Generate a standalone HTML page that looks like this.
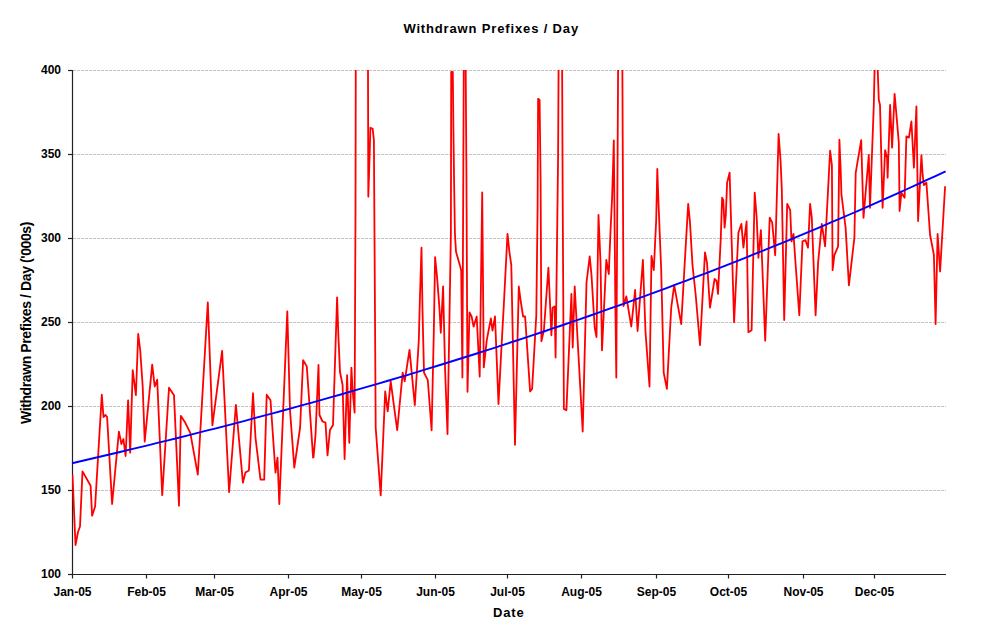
<!DOCTYPE html>
<html><head><meta charset="utf-8"><style>
html,body{margin:0;padding:0;background:#fff;width:984px;height:638px;overflow:hidden}
svg{display:block}
.lbl{font-family:"Liberation Sans",sans-serif;font-weight:bold;font-size:12px;fill:#000}
.ttl{font-family:"Liberation Sans",sans-serif;font-weight:bold;font-size:13px;fill:#000}
</style></head><body>
<svg width="984" height="638" viewBox="0 0 984 638">
<rect x="0" y="0" width="984" height="638" fill="#ffffff"/>
<line x1="73" y1="70.5" x2="946" y2="70.5" stroke="#c4c4c4" stroke-width="1" stroke-dasharray="3,1"/>
<line x1="73" y1="154.5" x2="946" y2="154.5" stroke="#c4c4c4" stroke-width="1" stroke-dasharray="3,1"/>
<line x1="73" y1="238.5" x2="946" y2="238.5" stroke="#c4c4c4" stroke-width="1" stroke-dasharray="3,1"/>
<line x1="73" y1="322.5" x2="946" y2="322.5" stroke="#c4c4c4" stroke-width="1" stroke-dasharray="3,1"/>
<line x1="73" y1="406.5" x2="946" y2="406.5" stroke="#c4c4c4" stroke-width="1" stroke-dasharray="3,1"/>
<line x1="73" y1="490.5" x2="946" y2="490.5" stroke="#c4c4c4" stroke-width="1" stroke-dasharray="3,1"/>
<line x1="72.5" y1="70" x2="72.5" y2="575" stroke="#222" stroke-width="1.2"/>
<line x1="72" y1="574.5" x2="946" y2="574.5" stroke="#222" stroke-width="1.2"/>
<line x1="68" y1="70.5" x2="72" y2="70.5" stroke="#222" stroke-width="1.2"/>
<text x="61" y="73.5" text-anchor="end" class="lbl">400</text>
<line x1="68" y1="154.5" x2="72" y2="154.5" stroke="#222" stroke-width="1.2"/>
<text x="61" y="157.5" text-anchor="end" class="lbl">350</text>
<line x1="68" y1="238.5" x2="72" y2="238.5" stroke="#222" stroke-width="1.2"/>
<text x="61" y="241.5" text-anchor="end" class="lbl">300</text>
<line x1="68" y1="322.5" x2="72" y2="322.5" stroke="#222" stroke-width="1.2"/>
<text x="61" y="325.5" text-anchor="end" class="lbl">250</text>
<line x1="68" y1="406.5" x2="72" y2="406.5" stroke="#222" stroke-width="1.2"/>
<text x="61" y="409.5" text-anchor="end" class="lbl">200</text>
<line x1="68" y1="490.5" x2="72" y2="490.5" stroke="#222" stroke-width="1.2"/>
<text x="61" y="493.5" text-anchor="end" class="lbl">150</text>
<line x1="68" y1="574.5" x2="72" y2="574.5" stroke="#222" stroke-width="1.2"/>
<text x="61" y="577.5" text-anchor="end" class="lbl">100</text>
<line x1="72.5" y1="574" x2="72.5" y2="578.5" stroke="#222" stroke-width="1.2"/>
<text x="72.5" y="595.5" text-anchor="middle" class="lbl">Jan-05</text>
<line x1="146.5" y1="574" x2="146.5" y2="578.5" stroke="#222" stroke-width="1.2"/>
<text x="146.5" y="595.5" text-anchor="middle" class="lbl">Feb-05</text>
<line x1="214.5" y1="574" x2="214.5" y2="578.5" stroke="#222" stroke-width="1.2"/>
<text x="214.5" y="595.5" text-anchor="middle" class="lbl">Mar-05</text>
<line x1="288.5" y1="574" x2="288.5" y2="578.5" stroke="#222" stroke-width="1.2"/>
<text x="288.5" y="595.5" text-anchor="middle" class="lbl">Apr-05</text>
<line x1="361.5" y1="574" x2="361.5" y2="578.5" stroke="#222" stroke-width="1.2"/>
<text x="361.5" y="595.5" text-anchor="middle" class="lbl">May-05</text>
<line x1="435.5" y1="574" x2="435.5" y2="578.5" stroke="#222" stroke-width="1.2"/>
<text x="435.5" y="595.5" text-anchor="middle" class="lbl">Jun-05</text>
<line x1="507.5" y1="574" x2="507.5" y2="578.5" stroke="#222" stroke-width="1.2"/>
<text x="507.5" y="595.5" text-anchor="middle" class="lbl">Jul-05</text>
<line x1="581.5" y1="574" x2="581.5" y2="578.5" stroke="#222" stroke-width="1.2"/>
<text x="581.5" y="595.5" text-anchor="middle" class="lbl">Aug-05</text>
<line x1="656.5" y1="574" x2="656.5" y2="578.5" stroke="#222" stroke-width="1.2"/>
<text x="656.5" y="595.5" text-anchor="middle" class="lbl">Sep-05</text>
<line x1="728.5" y1="574" x2="728.5" y2="578.5" stroke="#222" stroke-width="1.2"/>
<text x="728.5" y="595.5" text-anchor="middle" class="lbl">Oct-05</text>
<line x1="803.5" y1="574" x2="803.5" y2="578.5" stroke="#222" stroke-width="1.2"/>
<text x="803.5" y="595.5" text-anchor="middle" class="lbl">Nov-05</text>
<line x1="874.5" y1="574" x2="874.5" y2="578.5" stroke="#222" stroke-width="1.2"/>
<text x="874.5" y="595.5" text-anchor="middle" class="lbl">Dec-05</text>
<text x="491.2" y="33" text-anchor="middle" class="ttl" letter-spacing="0.85">Withdrawn Prefixes / Day</text>
<text x="508.8" y="617" text-anchor="middle" class="ttl" letter-spacing="0.9">Date</text>
<text transform="translate(31.4,323) rotate(-90)" x="0" y="0" text-anchor="middle" class="ttl" style="font-size:14px" letter-spacing="-0.4">Withdrawn Prefixes / Day ('000s)</text>
<defs><clipPath id="pa"><rect x="72" y="70" width="876" height="505"/></clipPath></defs>
<polyline clip-path="url(#pa)" points="72.5,475.0 75.5,545.0 78.0,532.0 80.0,526.5 82.5,471.4 90.6,485.7 92.1,515.7 95.1,506.5 101.8,394.7 103.5,417.0 105.5,415.0 107.1,417.0 112.1,504.0 118.9,431.6 121.4,444.0 123.4,439.0 125.6,456.0 128.1,400.3 130.2,452.6 132.7,370.2 135.9,395.2 138.2,333.8 140.2,350.0 142.7,386.5 144.7,441.6 152.2,364.7 154.7,386.5 157.2,379.7 162.2,495.2 169.0,387.7 174.0,395.2 179.0,505.7 180.8,415.8 185.3,422.8 190.3,432.8 197.8,474.6 207.8,302.5 212.4,425.3 222.1,350.9 229.1,492.2 235.9,404.8 242.9,482.7 245.4,472.6 248.9,470.5 253.0,393.2 255.5,437.8 260.5,479.6 264.2,479.6 266.7,394.7 270.5,400.3 275.5,472.6 277.5,457.6 279.3,504.0 287.3,311.3 290.0,410.3 294.3,467.6 300.1,427.5 303.1,360.2 306.8,366.4 313.1,457.6 313.5,457.3 315.5,435.0 318.5,365.0 319.5,415.0 322.5,421.5 325.5,422.7 327.5,455.3 330.0,430.0 333.0,425.0 337.1,297.3 338.3,334.0 340.0,372.0 342.6,385.0 344.6,459.0 347.1,375.1 349.3,442.8 351.4,367.6 352.6,390.0 354.6,412.7 355.5,213.0 356.6,-400.0 366.9,-400.0 368.3,196.6 369.8,150.0 370.4,127.7 372.7,128.9 373.9,140.2 375.7,427.7 380.7,495.4 385.2,391.4 387.7,411.4 390.7,381.4 397.2,430.2 402.7,372.6 404.7,381.4 409.5,349.8 414.8,405.2 418.8,340.3 420.0,295.2 421.5,247.6 422.5,310.2 424.0,372.6 427.8,380.1 431.6,430.3 433.8,332.8 435.1,257.1 437.1,277.6 439.6,310.2 440.8,332.8 443.1,286.4 445.1,370.0 447.5,434.0 450.9,232.5 451.2,72.0 452.8,72.0 453.4,127.7 454.1,182.2 454.9,233.0 456.0,251.7 459.8,264.9 461.2,270.5 462.4,377.6 464.5,-100.0 466.4,169.0 467.5,391.8 469.5,312.4 471.6,316.5 473.6,326.7 476.7,316.5 479.7,376.6 482.2,192.5 483.8,367.4 486.8,339.9 490.9,318.5 492.5,330.7 495.0,316.5 498.5,404.0 501.3,350.4 503.8,305.3 507.5,233.8 509.5,252.6 511.3,265.2 515.0,444.8 518.8,286.5 520.6,300.3 523.1,316.5 525.1,316.5 530.1,391.4 532.1,389.0 536.3,315.3 537.6,207.9 538.1,98.8 539.6,100.0 540.6,181.6 541.4,341.3 543.9,330.3 548.4,267.7 550.1,305.3 551.4,335.3 552.6,307.8 554.6,306.5 555.6,357.6 558.1,156.5 559.2,-50.0 561.6,-50.0 562.7,200.0 563.9,408.9 566.4,410.2 571.4,294.0 572.7,347.5 574.7,286.5 576.4,317.8 582.7,431.5 586.5,282.7 589.7,256.4 591.5,275.2 594.7,327.8 596.5,337.0 598.5,215.0 600.5,262.0 602.0,350.3 606.3,260.0 608.8,274.0 609.6,253.0 610.6,229.0 612.0,200.0 613.0,169.0 613.8,140.5 615.3,300.0 616.3,377.5 618.8,-50.0 621.8,-50.0 623.5,306.0 626.3,296.4 631.3,326.5 635.1,290.0 637.6,331.0 642.9,260.0 645.5,332.0 649.5,386.5 651.5,256.0 653.8,270.0 656.2,220.0 657.3,169.0 658.3,197.8 661.2,270.0 663.7,372.6 666.9,388.9 671.2,307.8 674.2,285.2 681.2,324.1 686.2,237.6 688.2,203.8 690.0,222.6 692.5,265.2 695.7,295.0 700.0,345.2 705.0,252.3 707.0,262.8 710.0,307.6 714.6,279.0 716.6,281.0 718.0,294.0 720.8,237.7 722.1,197.6 723.3,200.1 724.6,227.7 725.8,215.2 727.1,182.6 729.6,172.6 734.1,322.1 738.4,232.7 741.4,223.9 743.4,247.7 746.6,221.4 748.4,332.2 751.6,330.2 754.7,192.6 756.7,217.7 758.4,257.8 760.9,230.2 765.2,340.7 769.7,217.7 772.2,222.7 775.2,255.3 778.6,133.9 780.6,161.5 781.8,189.0 784.2,320.1 787.2,203.9 790.2,210.2 791.5,241.4 793.5,233.9 795.5,262.7 799.3,315.3 802.5,241.4 805.5,240.2 808.0,247.7 810.1,203.8 811.8,217.6 815.6,315.3 818.1,262.7 821.8,223.9 825.1,246.4 830.1,150.7 831.9,165.3 832.6,270.2 834.4,255.2 838.1,246.4 839.4,139.7 840.6,167.8 841.5,195.0 845.6,227.6 848.9,285.3 854.4,237.6 855.7,172.8 861.2,140.2 863.5,217.8 868.8,155.0 870.0,207.8 873.8,105.0 875.0,50.0 877.0,50.0 878.8,100.0 880.0,105.0 882.6,207.8 885.1,150.2 887.1,157.7 887.6,177.7 890.1,105.0 892.1,147.6 894.6,93.8 897.1,122.6 898.8,142.6 899.6,211.0 901.4,192.8 904.6,197.8 906.4,136.4 908.9,137.6 911.4,121.3 913.9,167.7 916.4,106.3 918.1,221.0 921.4,155.2 922.7,175.2 923.9,185.2 926.4,182.7 930.1,235.0 933.9,255.0 935.6,324.0 937.6,234.0 940.1,271.5 945.1,186.3" fill="none" stroke="#ff0000" stroke-width="1.8" stroke-linejoin="round"/>
<polyline points="72.0,463.2 81.6,461.0 91.2,458.8 100.8,456.5 110.4,454.3 120.0,452.0 129.6,449.7 139.2,447.4 148.8,445.1 158.4,442.7 168.0,440.4 177.6,438.0 187.2,435.6 196.8,433.2 206.4,430.7 216.0,428.3 225.6,425.8 235.2,423.3 244.8,420.8 254.4,418.2 264.0,415.7 273.6,413.1 283.2,410.5 292.8,407.9 302.4,405.2 312.0,402.6 321.6,399.9 331.2,397.2 340.8,394.5 350.4,391.7 360.0,388.9 369.6,386.1 379.2,383.3 388.8,380.5 398.4,377.6 408.0,374.8 417.6,371.9 427.2,368.9 436.8,366.0 446.4,363.0 456.0,360.0 465.6,357.0 475.2,354.0 484.8,350.9 494.4,347.8 504.0,344.7 513.6,341.5 523.2,338.4 532.8,335.2 542.4,332.0 552.0,328.7 561.6,325.5 571.2,322.2 580.8,318.9 590.4,315.5 600.0,312.1 609.6,308.7 619.2,305.3 628.8,301.9 638.4,298.4 648.0,294.9 657.6,291.4 667.2,287.8 676.8,284.2 686.4,280.6 696.0,276.9 705.6,273.3 715.2,269.6 724.8,265.8 734.4,262.1 744.0,258.3 753.6,254.4 763.2,250.6 772.8,246.7 782.4,242.8 792.0,238.8 801.6,234.9 811.2,230.9 820.8,226.8 830.4,222.7 840.0,218.6 849.6,214.5 859.2,210.3 868.8,206.1 878.4,201.9 888.0,197.6 897.6,193.3 907.2,189.0 916.8,184.6 926.4,180.2 936.0,175.8 945.6,171.3" fill="none" stroke="#0000ff" stroke-width="1.9"/>
</svg></body></html>
